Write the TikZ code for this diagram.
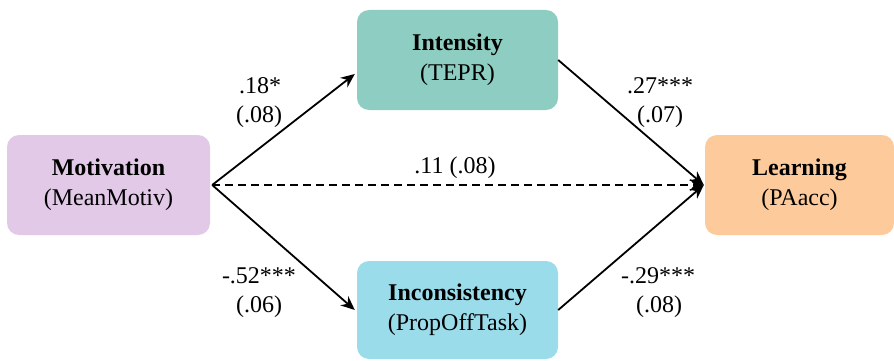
\documentclass[tikz,border=0pt]{standalone}
\usepackage{fontspec}
\setmainfont{Liberation Serif}
\usetikzlibrary{arrows.meta}
\definecolor{motivc}{HTML}{E2C9E7}
\definecolor{intc}{HTML}{8ECDC1}
\definecolor{incc}{HTML}{9BDCEA}
\definecolor{lrnc}{HTML}{FDCB9B}
\tikzset{
  var/.style={rounded corners=12pt, draw=none, align=center,
    inner sep=0pt, font=\fontsize{24}{30}\selectfont},
  path/.style={line width=1.8pt, -{Stealth[length=14pt,width=12pt]}},
  coef/.style={anchor=base, inner sep=0pt, font=\fontsize{24}{28}\selectfont},
}
\begin{document}
\begin{tikzpicture}[x=1pt,y=-1pt]
\useasboundingbox (0,0) rectangle (894,361);
% variables
\node[var, fill=motivc, minimum width=203pt, minimum height=100pt] (mot) at (108.5,185)
  {\textbf{Motivation}\\(MeanMotiv)};
\node[var, fill=intc, minimum width=201pt, minimum height=100pt] (int) at (457.5,60)
  {\textbf{Intensity}\\(TEPR)};
\node[var, fill=incc, minimum width=201pt, minimum height=98pt] (inc) at (457.5,310)
  {\textbf{Inconsistency}\\(PropOffTask)};
\node[var, fill=lrnc, minimum width=189pt, minimum height=100pt] (lrn) at (799.5,185)
  {\textbf{Learning}\\(PAacc)};
% paths
\coordinate (src) at ([xshift=2pt]mot.east);
\coordinate (dst) at ([xshift=-1pt]lrn.west);
\draw[path] (src) -- ([xshift=-2pt,yshift=-14pt]int.west);
\draw[path] (src) -- ([xshift=-2pt]inc.west);
\draw[path] (int.east) -- (dst);
\draw[path] (inc.east) -- (dst);
\draw[path, dash pattern=on 8pt off 5pt] (src) -- (dst);
% coefficients
\node[coef] (a1) at (260,93) {.18*};
\node[coef] (a2) at (259,122) {(.08)};
\node[coef] (b1) at (660,93) {.27***};
\node[coef] (b2) at (660,122) {(.07)};
\node[coef] (c1) at (259,283) {-.52***};
\node[coef] (c2) at (259,312) {(.06)};
\node[coef] (d1) at (658,283) {-.29***};
\node[coef] (d2) at (659,312) {(.08)};
\node[coef] (e1) at (455,173) {.11 (.08)};
\end{tikzpicture}
\end{document}
